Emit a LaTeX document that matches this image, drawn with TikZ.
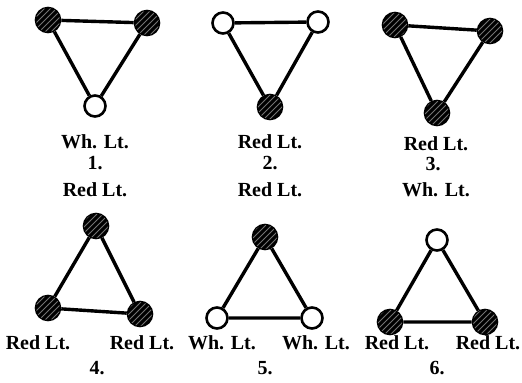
\documentclass[tikz,border=0pt]{standalone}
\usepackage{fontspec}
\setmainfont{Liberation Serif}
\usetikzlibrary{patterns, positioning}

\begin{document}
\begin{tikzpicture}[
    x=0.5pt, y=-0.5pt,
    lamp/.style={circle, draw, line width=1.3pt, inner sep=0pt, minimum size=10.5pt},
    whlamp/.style={lamp, fill=white},
    redlamp/.style={lamp, minimum size=12pt, fill=black, postaction={pattern=north east lines, pattern color=black!55}},
    wire/.style={line width=1.7pt},
    lbl/.style={font=\fontsize{10}{11}\selectfont\bfseries, inner sep=0pt}
]
\useasboundingbox (0,0) rectangle (522,383);

% 1.
\node[redlamp] (a1) at (48,20) {};
\node[redlamp] (b1) at (147,23) {};
\node[whlamp] (c1) at (95,106) {};
\draw[wire] (a1) -- (b1) -- (c1) -- (a1);
\node[lbl] (c1lbl) at (95,142) {Wh. Lt.};
\node[lbl] (n1) at (95,163) {1.};
\node[lbl] (t1) at (95,190) {Red Lt.};

% 2.
\node[whlamp] (a2) at (223,23) {};
\node[whlamp] (b2) at (318,22) {};
\node[redlamp] (c2) at (270,107) {};
\draw[wire] (a2) -- (b2) -- (c2) -- (a2);
\node[lbl] (c2lbl) at (270,142) {Red Lt.};
\node[lbl] (n2) at (270,163) {2.};
\node[lbl] (t2) at (270,190) {Red Lt.};

% 3.
\node[redlamp] (a3) at (395,25) {};
\node[redlamp] (b3) at (490,31) {};
\node[redlamp] (c3) at (437,113) {};
\draw[wire] (a3) -- (b3) -- (c3) -- (a3);
\node[lbl] (c3lbl) at (436,144) {Red Lt.};
\node[lbl] (n3) at (433,164) {3.};
\node[lbl] (t3) at (436,190) {Wh. Lt.};

% 4.
\node[redlamp] (a4) at (96,226) {};
\node[redlamp] (b4) at (48,308) {};
\node[redlamp] (c4) at (140,314) {};
\draw[wire] (a4) -- (b4) -- (c4) -- (a4);
\node[lbl] (b4lbl) at (38,343) {Red Lt.};
\node[lbl] (c4lbl) at (142,343) {Red Lt.};
\node[lbl] (n4) at (97,368) {4.};

% 5.
\node[redlamp] (a5) at (265,237) {};
\node[whlamp] (b5) at (217,318) {};
\node[whlamp] (c5) at (312,318) {};
\draw[wire] (a5) -- (b5) -- (c5) -- (a5);
\node[lbl] (b5lbl) at (222,343) {Wh. Lt.};
\node[lbl] (c5lbl) at (316,343) {Wh. Lt.};
\node[lbl] (n5) at (265,368) {5.};

% 6.
\node[whlamp] (a6) at (437,240) {};
\node[redlamp] (b6) at (390,322) {};
\node[redlamp] (c6) at (485,322) {};
\draw[wire] (a6) -- (b6) -- (c6) -- (a6);
\node[lbl] (b6lbl) at (397,343) {Red Lt.};
\node[lbl] (c6lbl) at (488,343) {Red Lt.};
\node[lbl] (n6) at (437,368) {6.};
\end{tikzpicture}
\end{document}
